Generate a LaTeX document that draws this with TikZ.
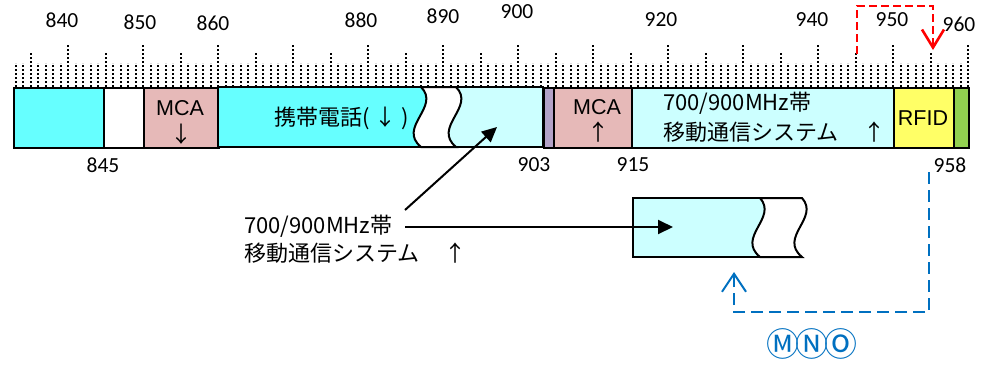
\documentclass[tikz,border=0pt]{standalone}
\usepackage{fontspec}
\setmainfont{Liberation Sans}
\newfontfamily\jp{Noto Sans CJK JP}
\newfontfamily\numf{Carlito}
\usetikzlibrary{arrows.meta}
\definecolor{cyanA}{HTML}{66FFFF}
\definecolor{cyanB}{HTML}{CCFFFF}
\definecolor{mcac}{HTML}{E6B9B8}
\definecolor{purp}{HTML}{B3A2C7}
\definecolor{rfidc}{HTML}{FFFF66}
\definecolor{grn}{HTML}{92D050}
\definecolor{mnoc}{HTML}{0070C0}
\begin{document}
\begin{tikzpicture}[x=1pt,y=-1pt,
  seg/.style={draw=black, line width=2pt},
  bandbox/.style={seg, anchor=north west, inner sep=0pt, minimum height=60pt},
  tickline/.style={line width=1.7pt, dash pattern=on 1.8pt off 2.2pt},
  numlab/.style={font=\numf\fontsize{21.5}{24}\selectfont, inner sep=0pt},
  lat/.style={font=\fontsize{21.5}{24}\selectfont, inner sep=0pt},
  jptext/.style={font=\jp\fontsize{22}{26}\selectfont, inner sep=0pt},
  blackarrow/.style={line width=2pt, -{Triangle[length=15pt,width=14pt]}},
  redline/.style={draw=red, line width=2.3pt, dash pattern=on 8pt off 4pt, -{Straight Barb[length=18pt,width=22pt,line width=2.6pt]}},
  blueline/.style={draw=mnoc, line width=2pt, dash pattern=on 12pt off 6pt, -{Straight Barb[length=18pt,width=24pt,line width=2pt]}}
]
\useasboundingbox (0,0) rectangle (989,368);

% ticks
\foreach \f in {833,...,960}{
  \pgfmathsetmacro\tkx{143.33+(\f-850)*7.5}
  \pgfmathsetmacro\tkt{mod(\f,10)==0 ? 45 : (mod(\f,5)==0 ? 53 : 63)}
  \draw[tickline] (\tkx,87) -- (\tkx,\tkt);
}

% tick labels
\node[numlab] (l840) at (62,20) {840};
\node[numlab] (l850) at (140,22) {850};
\node[numlab] (l860) at (213,23) {860};
\node[numlab] (l880) at (361,20) {880};
\node[numlab] (l890) at (443,16) {890};
\node[numlab] (l900) at (517,12) {900};
\node[numlab] (l920) at (661,20) {920};
\node[numlab] (l940) at (812,20) {940};
\node[numlab] (l950) at (892,20) {950};
\node[numlab] (l960) at (959,24) {960};
\node[numlab] (l845) at (103,165) {845};
\node[numlab] (l903) at (534,165) {903};
\node[numlab] (l915) at (633,165) {915};
\node[numlab] (l958) at (950,165) {958};

% band
\node[bandbox, fill=cyanA, minimum width=90pt] (b1) at (13,87) {};
\node[bandbox, fill=white, minimum width=40pt] (b2) at (103,87) {};
\node[bandbox, fill=mcac, minimum width=75pt] (b3) at (143,87) {};
\fill[cyanB] (218,87) rectangle (543,147);
\fill[cyanA] (218,87) -- (421,87) .. controls (441,107) and (397,127) .. (421,147) -- (218,147) -- cycle;
\draw[seg, fill=white] (421,87) .. controls (441,107) and (397,127) .. (421,147) -- (456,147) .. controls (432,127) and (476,107) .. (456,87) -- cycle;
\draw[seg] (218,87) rectangle (543,147);
\node[bandbox, fill=purp, minimum width=10pt] (b6) at (543,87) {};
\node[bandbox, fill=mcac, minimum width=78pt] (b7) at (553,87) {};
\node[bandbox, fill=cyanB, minimum width=262pt] (b8) at (631,87) {};
\node[bandbox, fill=rfidc, minimum width=60pt] (b9) at (893,87) {};
\node[bandbox, fill=grn, minimum width=15pt] (b10) at (953,87) {};

% band texts
\node[lat] (mca1) at (180,108) {MCA};
\node[jptext] (mca1a) at (181,134) {↓};
\node[jptext, anchor=west] (keitai) at (274,118) {携帯電話(\hspace{5pt}↓\hspace{5pt})};
\node[lat] (mca2) at (597,107) {MCA};
\node[jptext] (mca2a) at (598,132) {↑};
\node[jptext, anchor=west] (sys1) at (663,103) {700/900MHz帯};
\node[jptext, anchor=west] (sys2) at (663,132) {移動通信システム　\hspace{3pt}↑};
\node[lat] (rfid) at (923,118) {RFID};

% lower box
\fill[cyanB] (633,198) -- (760,198) .. controls (778,218) and (736,237) .. (760,257) -- (633,257) -- cycle;
\draw[seg] (760,198) -- (633,198) -- (633,257) -- (760,257);
\draw[seg, fill=white] (760,198) .. controls (778,218) and (736,237) .. (760,257) -- (802,257) .. controls (778,237) and (820,218) .. (802,198) -- cycle;
\coordinate (lowtip) at (673,227);
\coordinate (bandtip) at (497,127);

% label and arrows
\node[jptext, anchor=west] (lab1) at (244,226) {700/900MHz帯};
\node[jptext, anchor=west] (lab2) at (244,253) {移動通信システム　\hspace{3pt}↑};
\coordinate (s1) at (405,210);
\coordinate (s2) at (405,227);
\draw[blackarrow] (s1) -- (bandtip);
\draw[blackarrow] (s2) -- (lowtip);

% red dashed
\coordinate (r0) at (857,54);
\coordinate (r1) at (857,6);
\coordinate (r2) at (933,50);
\draw[redline] (r0) -- (r1) -| (r2);

% blue dashed
\coordinate (u0) at (929,172);
\coordinate (u1) at (734,312);
\coordinate (u2) at (734,272);
\draw[blueline] (u0) |- (u1) -- (u2);
\node[font=\jp\fontsize{33}{36}\selectfont, text=mnoc, inner sep=0pt] (mno) at (812,344) {Ⓜ\hspace{-4pt}Ⓝ\hspace{-4pt}Ⓞ};
\end{tikzpicture}
\end{document}
